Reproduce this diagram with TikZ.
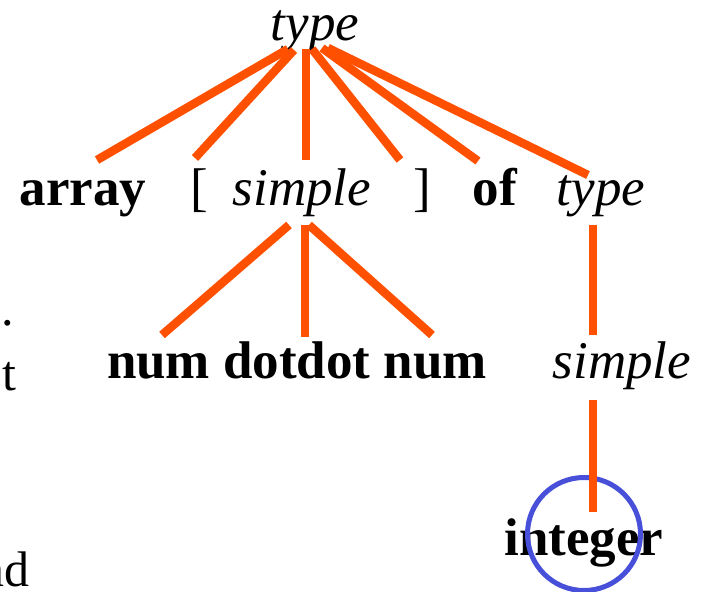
\documentclass[tikz,border=0pt]{standalone}
\usepackage{fontspec}
\setmainfont{Liberation Serif}
\definecolor{treeorange}{RGB}{255,80,0}
\definecolor{circblue}{RGB}{72,80,218}
\tikzset{
  x=1pt,y=1pt,
  lbl/.style={inner sep=0pt,anchor=base,font=\fontsize{53}{60}\selectfont},
  nt/.style={lbl,font=\fontsize{53}{60}\selectfont\itshape},
  tm/.style={lbl,font=\fontsize{53}{60}\selectfont\bfseries},
  frag/.style={inner sep=0pt,anchor=base east,font=\fontsize{50}{60}\selectfont},
  edge/.style={draw=treeorange,line width=8.5pt},
  ring/.style={draw=circblue,line width=5pt,circle,minimum size=113pt,inner sep=0pt}
}
\begin{document}
\begin{tikzpicture}
\useasboundingbox (0,0) rectangle (702,-592);
\clip (0,0) rectangle (702,-592);
% labels
\node[nt] (type0) at (315,-40) {type};
\node[tm] (array) at (83,-205) {array};
\node[lbl] (lb) at (199,-205) {[};
\node[nt] (simple1) at (302,-205) {simple};
\node[lbl] (rb) at (422,-205) {]};
\node[tm] (of) at (495,-205) {of};
\node[nt] (type1) at (601,-205) {type};
\node[tm] (nums) at (297,-378) {num dotdot num};
\node[nt] (simple2) at (622,-378) {simple};
\node[tm] (integer) at (584,-555) {integer};
\node[ring] (circ) at (584,-534) {};
% fragments at left edge
\node[frag] (f1) at (14,-325) {.};
\node[frag] (f2) at (17,-390) {t};
\node[frag] (f3) at (30,-586) {nd};
% connector end points
\coordinate (t0a) at (288,-49);
\coordinate (t0b) at (294,-50);
\coordinate (t0c) at (306,-49);
\coordinate (t0d) at (312,-49);
\coordinate (t0e) at (322,-48);
\coordinate (t0f) at (328,-48);
\coordinate (arrayT) at (97,-160);
\coordinate (lbT) at (195,-158);
\coordinate (simple1T) at (306,-160);
\coordinate (rbT) at (400,-160);
\coordinate (ofT) at (478,-161);
\coordinate (type1T) at (588,-175);
\coordinate (s1a) at (289,-225);
\coordinate (s1b) at (305,-225);
\coordinate (s1c) at (309,-225);
\coordinate (numL) at (162,-335);
\coordinate (numM) at (305,-337);
\coordinate (numR) at (432,-335);
\coordinate (ty1B) at (593,-225);
\coordinate (si2T) at (593,-335);
\coordinate (si2B) at (593,-400);
\coordinate (intT) at (593,-512);
% connectors
\draw[edge] (t0a) -- (arrayT);
\draw[edge] (t0b) -- (lbT);
\draw[edge] (t0c) -- (simple1T);
\draw[edge] (t0d) -- (rbT);
\draw[edge] (t0e) -- (ofT);
\draw[edge] (t0f) -- (type1T);
\draw[edge] (s1a) -- (numL);
\draw[edge] (s1b) -- (numM);
\draw[edge] (s1c) -- (numR);
\draw[edge] (ty1B) -- (si2T);
\draw[edge] (si2B) -- (intT);
\end{tikzpicture}
\end{document}
